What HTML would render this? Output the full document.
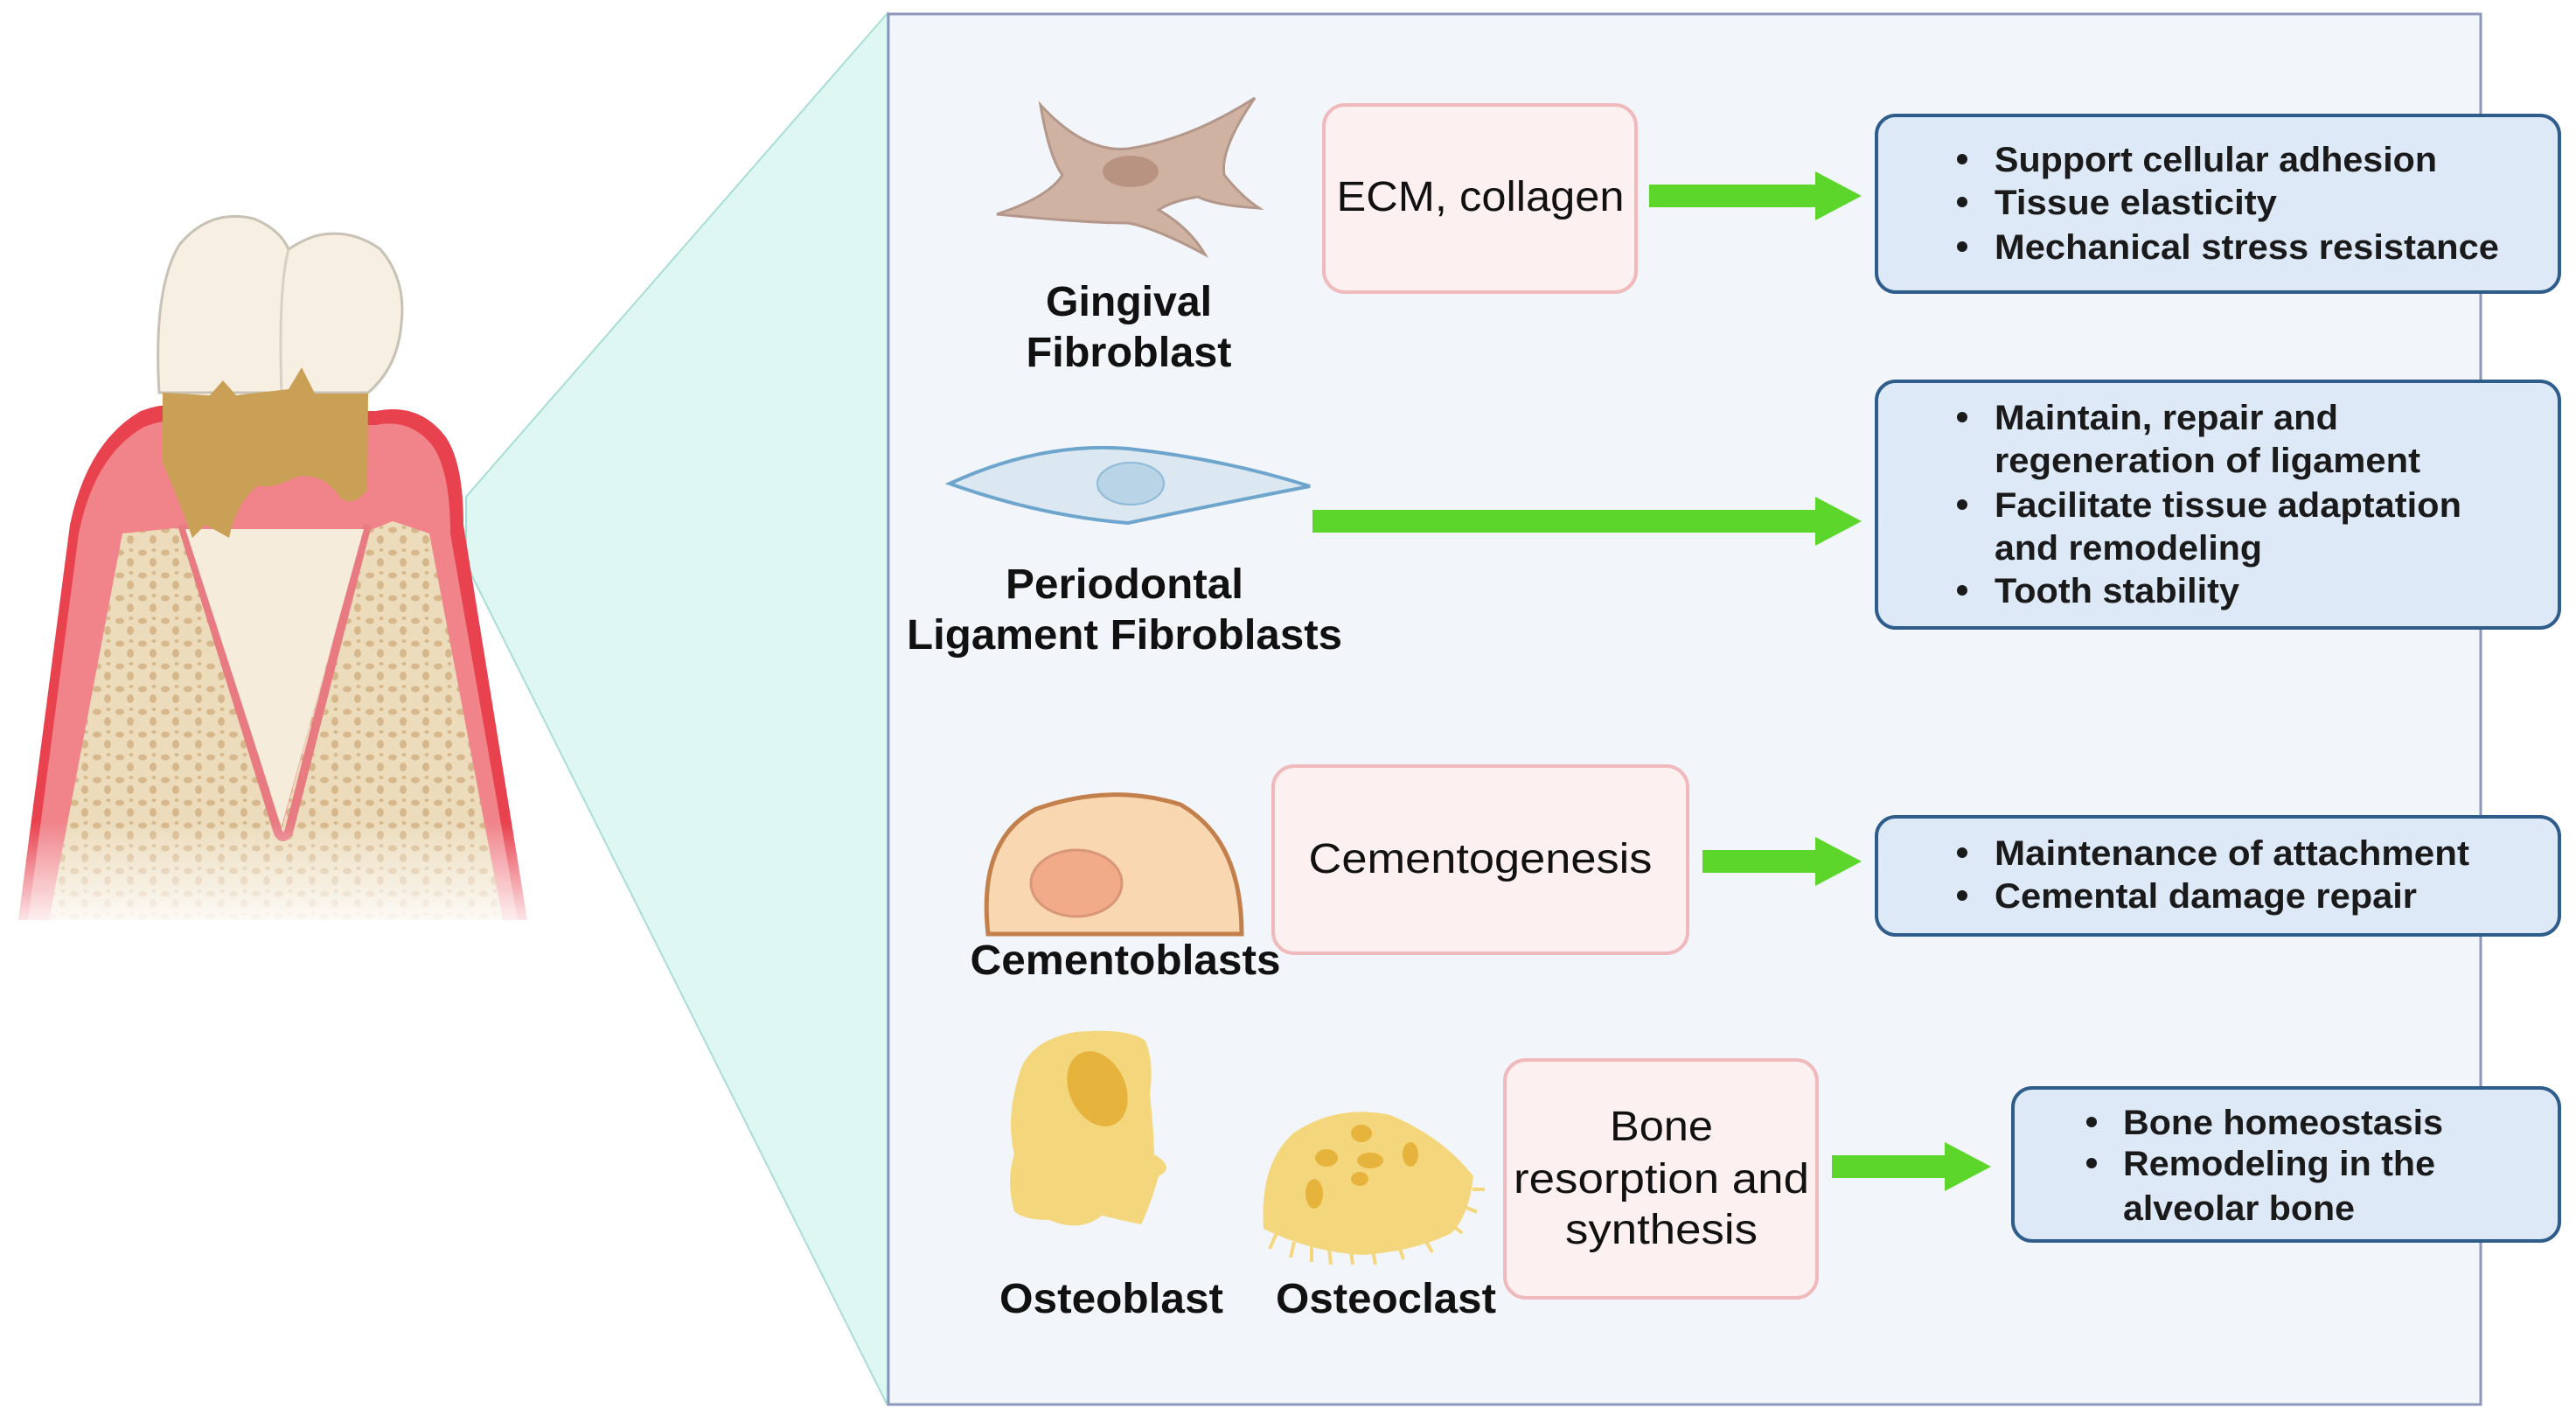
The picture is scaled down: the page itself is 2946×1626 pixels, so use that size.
<!DOCTYPE html>
<html><head><meta charset="utf-8"><style>html,body{margin:0;padding:0;background:#fff}svg{display:block}</style></head>
<body>
<svg width="2946" height="1626" viewBox="0 0 2946 1626" xmlns="http://www.w3.org/2000/svg" font-family="Liberation Sans, sans-serif">
<defs>
<linearGradient id="fade" x1="0" y1="0" x2="0" y2="1"><stop offset="0" stop-color="#fff" stop-opacity="0"/><stop offset="1" stop-color="#fff" stop-opacity="1"/></linearGradient>
<pattern id="dots" width="26" height="26" patternUnits="userSpaceOnUse"><rect width="26" height="26" fill="#ecdcbc"/><ellipse cx="7" cy="8" rx="5" ry="3.5" fill="#d7b88c"/><ellipse cx="19" cy="19" rx="4" ry="5" fill="#d7b88c"/><ellipse cx="20" cy="5" rx="2.5" ry="2" fill="#d7b88c"/></pattern>
</defs>
<polygon points="533,568 1015,15 1015,1607 533,645" fill="#dff7f3" stroke="#a8ddd6" stroke-width="2"/>
<rect x="1016" y="16" width="1821" height="1590" fill="#f2f5fa" stroke="#8d97bd" stroke-width="3"/>
<!-- tooth illustration -->
<path d="M21,1052 L80,600 Q100,505 161,470 Q200,455 240,470 L430,470 Q480,460 510,500 Q530,530 530,600 L603,1052 Z" fill="#e8424f"/>
<path d="M32,1052 L90,610 Q108,520 165,488 Q200,474 235,486 L430,486 Q470,478 495,510 Q515,540 515,610 L592,1052 Z" fill="#f0848a"/>
<path d="M56,1052 L140,610 L210,603 L217,610 L323,944 L414,610 L449,596 L491,610 L575,1052 Z" fill="url(#dots)"/>
<path d="M208,600 L318,952 Q323,962 330,952 L420,600" fill="none" stroke="#e87a82" stroke-width="10"/>
<path d="M212,605 L322,945 L416,605 Z" fill="#f5ecdb"/>
<path d="M182,449 Q175,330 205,280 Q240,238 290,250 Q320,262 330,285 Q345,275 360,270 Q400,260 435,285 Q465,320 459,370 Q455,420 421,449 Z" fill="#f6efe2" stroke="#c8c2b5" stroke-width="3"/>
<path d="M330,285 Q318,330 322,449" fill="none" stroke="#d8d0c0" stroke-width="3"/>
<path d="M186,449 L240,452 L255,435 L270,452 L330,445 L345,420 L360,450 L421,450 L420,560 Q405,580 390,570 Q370,540 340,545 Q310,560 295,555 Q270,575 262,615 L235,600 L220,615 Q200,560 186,530 Z" fill="#c9a055"/>
<rect x="0" y="940" width="640" height="130" fill="url(#fade)"/>
<!-- Gingival fibroblast -->
<path d="M1190,120 Q1240,175 1290,170 Q1360,160 1435,112 Q1395,170 1400,200 Q1420,225 1440,238 Q1390,235 1370,225 Q1340,230 1325,240 Q1360,260 1378,291 Q1320,260 1290,255 Q1240,255 1140,245 Q1200,225 1215,200 Q1200,180 1190,120 Z" fill="#cfb2a1" stroke="#b3978a" stroke-width="3"/>
<ellipse cx="1293" cy="196" rx="32" ry="18" fill="#b89382"/>
<!-- PDL fibroblast -->
<path d="M1086,553 Q1190,505 1290,513 Q1400,525 1498,556 Q1400,575 1290,598 Q1190,590 1086,553 Z" fill="#dbe8f1" stroke="#6ea5cd" stroke-width="4"/>
<ellipse cx="1293" cy="553" rx="38" ry="24" fill="#b9d4e6" stroke="#8fbad8" stroke-width="2"/>
<!-- Cementoblast -->
<path d="M1130,1068 Q1118,960 1185,925 Q1270,895 1350,920 Q1420,960 1420,1068 Z" fill="#f8d7b1" stroke="#c4804c" stroke-width="5"/>
<ellipse cx="1231" cy="1010" rx="52" ry="38" fill="#f1ab88" stroke="#d99679" stroke-width="3"/>
<!-- Osteoblast -->
<path d="M1165,1230 Q1175,1190 1230,1180 Q1290,1175 1310,1190 Q1320,1215 1315,1250 Q1320,1300 1320,1320 Q1345,1335 1325,1345 Q1315,1380 1305,1400 Q1280,1395 1260,1390 Q1235,1410 1200,1395 Q1170,1395 1160,1385 Q1150,1350 1160,1320 Q1150,1280 1165,1230 Z" fill="#f4d77d"/>
<ellipse cx="1255" cy="1245" rx="32" ry="45" fill="#e6b43c" transform="rotate(-25 1255 1245)"/>
<!-- Osteoclast -->
<path d="M1445,1405 Q1440,1330 1480,1295 Q1530,1262 1590,1275 Q1650,1300 1685,1345 Q1680,1390 1660,1410 Q1620,1430 1560,1435 Q1500,1432 1445,1405 Z" fill="#f4d77d"/>
<g stroke="#f4d77d" stroke-width="4"><path d="M1460,1410 l-8,18 M1480,1420 l-4,18 M1500,1425 l0,18 M1520,1428 l2,18 M1545,1430 l2,16 M1570,1430 l3,16 M1600,1425 l5,15 M1630,1418 l8,14 M1660,1400 l12,10 M1675,1380 l14,6 M1684,1360 l14,0"/></g>
<g fill="#e6b43c"><ellipse cx="1557" cy="1296" rx="12" ry="10"/><ellipse cx="1517" cy="1324" rx="13" ry="10"/><ellipse cx="1567" cy="1327" rx="15" ry="9"/><ellipse cx="1613" cy="1320" rx="9" ry="14"/><ellipse cx="1503" cy="1365" rx="10" ry="17"/><ellipse cx="1555" cy="1348" rx="10" ry="8"/></g>
<!-- pink boxes -->
<g fill="#fdf0f1" stroke="#f0b9bc" stroke-width="4">
<rect x="1514" y="120" width="357" height="214" rx="24"/>
<rect x="1456" y="876" width="474" height="214" rx="24"/>
<rect x="1721" y="1212" width="357" height="272" rx="24"/>
</g>
<g font-size="48" fill="#111" text-anchor="middle">
<text x="1693" y="241" textLength="329" lengthAdjust="spacingAndGlyphs">ECM, collagen</text>
<text x="1693" y="998" textLength="393" lengthAdjust="spacingAndGlyphs">Cementogenesis</text>
<text x="1900" y="1304" textLength="118" lengthAdjust="spacingAndGlyphs">Bone</text>
<text x="1900" y="1364" textLength="338" lengthAdjust="spacingAndGlyphs">resorption and</text>
<text x="1900" y="1422" textLength="220" lengthAdjust="spacingAndGlyphs">synthesis</text>
</g>
<g fill="#5cd62b">
<path d="M1886,211 L2076,211 L2076,196 L2129,224 L2076,252 L2076,237 L1886,237 Z"/>
<path d="M1501,583 L2076,583 L2076,568 L2129,596 L2076,624 L2076,609 L1501,609 Z"/>
<path d="M1947,972 L2076,972 L2076,957 L2129,985 L2076,1013 L2076,998 L1947,998 Z"/>
<path d="M2095,1321 L2224,1321 L2224,1306 L2277,1334 L2224,1362 L2224,1347 L2095,1347 Z"/>
</g>
<g fill="#dde9f7" stroke="#2e5d8c" stroke-width="4">
<rect x="2146" y="132" width="781" height="202" rx="22"/>
<rect x="2146" y="436" width="781" height="282" rx="22"/>
<rect x="2146" y="934" width="781" height="135" rx="22"/>
<rect x="2302" y="1244" width="625" height="175" rx="22"/>
</g>
<g font-size="40" font-weight="bold" fill="#1a1a1a">
<g fill="#1a1a1a">
<circle cx="2244" cy="182" r="6"/><circle cx="2244" cy="231" r="6"/><circle cx="2244" cy="282" r="6"/>
<circle cx="2244" cy="477" r="6"/><circle cx="2244" cy="577" r="6"/><circle cx="2244" cy="675" r="6"/>
<circle cx="2244" cy="975" r="6"/><circle cx="2244" cy="1024" r="6"/>
<circle cx="2392" cy="1283" r="6"/><circle cx="2392" cy="1330" r="6"/>
</g>
<text x="2281" y="196" textLength="506" lengthAdjust="spacingAndGlyphs">Support cellular adhesion</text>
<text x="2281" y="245" textLength="323" lengthAdjust="spacingAndGlyphs">Tissue elasticity</text>
<text x="2281" y="296" textLength="577" lengthAdjust="spacingAndGlyphs">Mechanical stress resistance</text>
<text x="2281" y="491" textLength="393" lengthAdjust="spacingAndGlyphs">Maintain, repair and</text>
<text x="2281" y="540" textLength="487" lengthAdjust="spacingAndGlyphs">regeneration of ligament</text>
<text x="2281" y="591" textLength="534" lengthAdjust="spacingAndGlyphs">Facilitate tissue adaptation</text>
<text x="2281" y="640" textLength="306" lengthAdjust="spacingAndGlyphs">and remodeling</text>
<text x="2281" y="689" textLength="280" lengthAdjust="spacingAndGlyphs">Tooth stability</text>
<text x="2281" y="989" textLength="543" lengthAdjust="spacingAndGlyphs">Maintenance of attachment</text>
<text x="2281" y="1038" textLength="483" lengthAdjust="spacingAndGlyphs">Cemental damage repair</text>
<text x="2428" y="1297" textLength="366" lengthAdjust="spacingAndGlyphs">Bone homeostasis</text>
<text x="2428" y="1344" textLength="357" lengthAdjust="spacingAndGlyphs">Remodeling in the</text>
<text x="2428" y="1395" textLength="265" lengthAdjust="spacingAndGlyphs">alveolar bone</text>
</g>
<g font-size="48" font-weight="bold" fill="#111" text-anchor="middle">
<text x="1291" y="361" textLength="190" lengthAdjust="spacingAndGlyphs">Gingival</text>
<text x="1291" y="419" textLength="235" lengthAdjust="spacingAndGlyphs">Fibroblast</text>
<text x="1286" y="684" textLength="272" lengthAdjust="spacingAndGlyphs">Periodontal</text>
<text x="1286" y="742" textLength="498" lengthAdjust="spacingAndGlyphs">Ligament Fibroblasts</text>
<text x="1287" y="1114" textLength="355" lengthAdjust="spacingAndGlyphs">Cementoblasts</text>
<text x="1271" y="1501" textLength="256" lengthAdjust="spacingAndGlyphs">Osteoblast</text>
<text x="1585" y="1501" textLength="252" lengthAdjust="spacingAndGlyphs">Osteoclast</text>
</g>
</svg>
</body></html>
